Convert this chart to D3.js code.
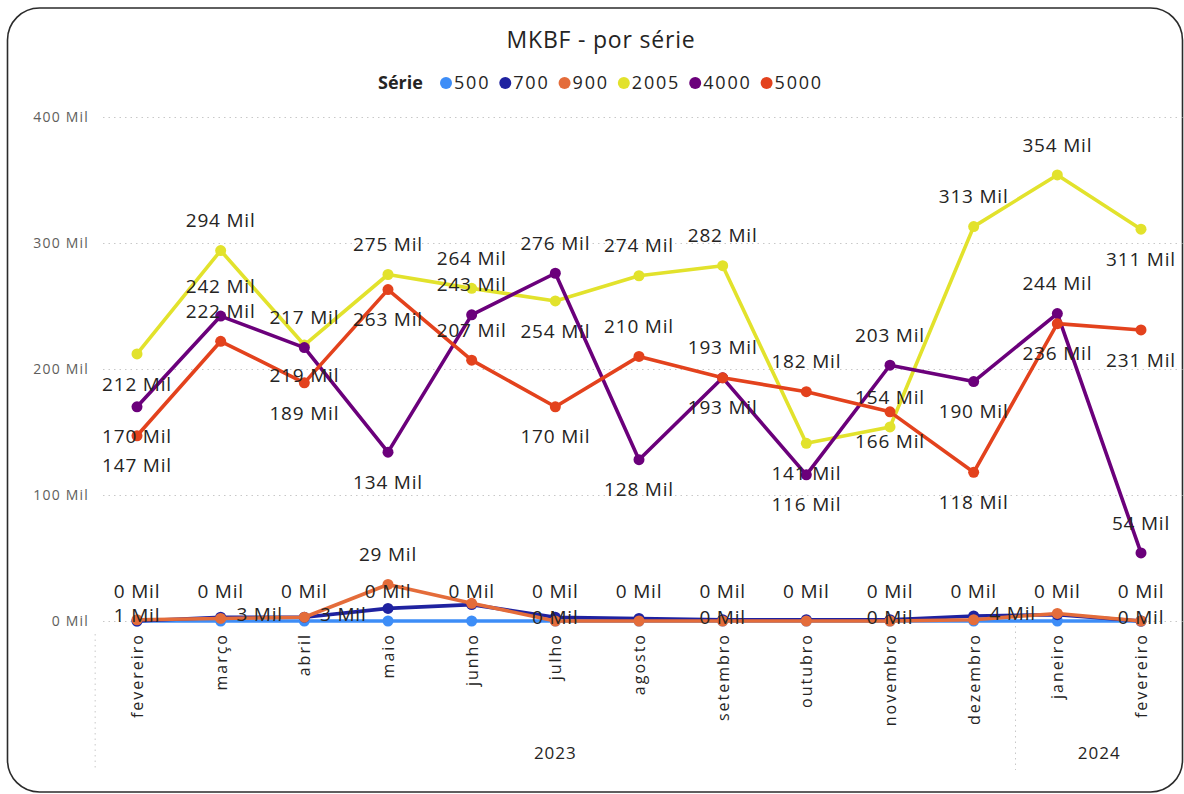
<!DOCTYPE html>
<html>
<head>
<meta charset="utf-8">
<script src="https://cdn.jsdelivr.net/npm/d3@7"></script>
<style>
  html, body { margin: 0; padding: 0; background: #fff; }
  svg { display: block; }
  text { font-family: "Open Sans", "Noto Sans", sans-serif; }
</style>
</head>
<body>
<svg id="chart" width="1184" height="794"></svg>
<script>
// Months on the x axis (Feb 2023 – Feb 2024)
const months = ["fevereiro", "março", "abril", "maio", "junho", "julho", "agosto",
                "setembro", "outubro", "novembro", "dezembro", "janeiro", "fevereiro"];
const years = ["2023", "2024"];
const yearSpans = [[0, 10], [11, 12]];

// Series names and MKBF values (thousands)
const seriesNames = ["500", "700", "900", "2005", "4000", "5000"];
const s500  = [0, 0, 0, 0, 0, 0, 0, 0, 0, 0, 0, 0, 0];
const s700  = [0, 3, 3, 10, 13, 3, 2, 1, 1, 1, 4, 5, 0];
const s900  = [1, 2, 3, 29, 14, 0, 0, 0, 0, 0, 1, 6, 0];
const s2005 = [212, 294, 219, 275, 264, 254, 274, 282, 141, 154, 313, 354, 311];
const s4000 = [170, 242, 217, 134, 243, 276, 128, 193, 116, 203, 190, 244, 54];
const s5000 = [147, 222, 189, 263, 207, 170, 210, 193, 182, 166, 118, 236, 231];

const yTicks = [0, 100, 200, 300, 400];

// Series colours
const colors = ["#3d8df7", "#1f22a0", "#e46c3a", "#e2e22c", "#6b007b", "#e3421d"];

// Data-label placement: A above, B below, C centred, R right, N hidden
const labelSides = [
  "AAAAAAAAAAAAA",
  "NRRNNNNNNNRNN",
  "CNNANCNCNCNNC",
  "BABAABAABAAAB",
  "BAABAABBBABAA",
  "BABBABAAABBBB"
];

const values = [s500, s700, s900, s2005, s4000, s5000];
const series = seriesNames.map((name, i) => ({
  name, color: colors[i], sides: labelSides[i],
  points: values[i].map((v, j) => ({ i: j, v }))
}));

const svg = d3.select("#chart");

// Rounded frame
svg.append("rect")
  .attr("x", 7.5).attr("y", 8).attr("width", 1175).attr("height", 784)
  .attr("rx", 32).attr("ry", 32)
  .attr("fill", "#fff").attr("stroke", "#2b2b2b").attr("stroke-width", 1.6);

const x = d3.scalePoint().domain(d3.range(months.length)).range([137, 1141]);
const y = d3.scaleLinear().domain([0, 400]).range([621, 117]);

// Title
svg.append("text")
  .attr("x", 601).attr("y", 48)
  .attr("text-anchor", "middle")
  .attr("font-size", 23).attr("letter-spacing", 0.8).attr("fill", "#252423")
  .text("MKBF - por série");

// Legend
const legend = svg.append("g").attr("transform", "translate(378,83)");
legend.append("text")
  .attr("x", 0).attr("y", 6)
  .attr("font-size", 18).attr("font-weight", "bold").attr("fill", "#252423")
  .text("Série");
let lx = 68;
series.forEach(s => {
  legend.append("circle").attr("cx", lx).attr("cy", 0).attr("r", 6).attr("fill", s.color);
  const t = legend.append("text")
    .attr("x", lx + 8).attr("y", 6)
    .attr("font-size", 18).attr("letter-spacing", 1.8).attr("fill", "#252423")
    .text(s.name);
  lx += 8 + t.node().getComputedTextLength() + 15;
});

// Horizontal gridlines and y labels
const yAxis = d3.axisLeft(y).tickValues(yTicks).tickSize(0).tickFormat(d => d + " Mil");
const yg = svg.append("g").attr("transform", "translate(95,0)").call(yAxis);
yg.select(".domain").remove();
yg.selectAll("text")
  .attr("x", -6).attr("font-size", 14).attr("letter-spacing", 1.2).attr("fill", "#605e5c")
  .attr("font-family", "'Open Sans', sans-serif");
yg.selectAll(".tick").append("line")
  .attr("x1", 8).attr("x2", 1088)
  .attr("stroke", "#c8c8c8").attr("stroke-width", 1)
  .attr("stroke-dasharray", "1.5,4");

// X axis month labels (rotated)
const xAxis = d3.axisBottom(x).tickSize(0).tickFormat(i => months[i]);
const xg = svg.append("g").attr("transform", "translate(0,633)").call(xAxis);
xg.select(".domain").remove();
xg.selectAll("text")
  .attr("font-size", 16).attr("fill", "#252423")
  .attr("letter-spacing", 2)
  .attr("font-family", "'Open Sans', sans-serif")
  .attr("transform", "rotate(-90)")
  .attr("text-anchor", "end")
  .attr("x", 0).attr("y", 0).attr("dy", "0.35em");

// Year separators and labels
const step = x.step();
const sepXs = [x(0) - step / 2, x(11) - step / 2];
svg.selectAll("line.sep").data(sepXs).enter().append("line")
  .attr("class", "sep")
  .attr("x1", d => d).attr("x2", d => d)
  .attr("y1", (d, k) => k === 0 ? 634 : 626).attr("y2", 770)
  .attr("stroke", "#c8c8c8").attr("stroke-width", 1).attr("stroke-dasharray", "1.5,4");

svg.selectAll("text.year").data(years).enter().append("text")
  .attr("class", "year")
  .attr("x", (d, k) => (x(yearSpans[k][0]) + x(yearSpans[k][1])) / 2)
  .attr("y", 759)
  .attr("text-anchor", "middle")
  .attr("font-size", 17).attr("letter-spacing", 1).attr("fill", "#252423")
  .text(d => d);

// Lines and markers
const line = d3.line().x(d => x(d.i)).y(d => y(d.v));
const marks = svg.append("g");
series.forEach(s => {
  const g = marks.append("g");
  g.append("path")
    .attr("d", line(s.points))
    .attr("fill", "none").attr("stroke", s.color)
    .attr("stroke-width", 3.6).attr("stroke-linejoin", "round");
  g.selectAll("circle").data(s.points).enter().append("circle")
    .attr("cx", d => x(d.i)).attr("cy", d => y(d.v)).attr("r", 5.5)
    .attr("fill", s.color);
});

// Data labels
const labels = svg.append("g");
series.forEach(s => {
  s.points.forEach(p => {
    const side = s.sides[p.i];
    if (side === "N") return;
    let dx = 0, dy = 0;
    if (side === "A") dy = -30;
    else if (side === "B") dy = 30;
    else if (side === "C") dy = -4;
    else if (side === "R") { dx = 39; dy = -3; }
    labels.append("text")
      .attr("x", x(p.i) + dx).attr("y", y(p.v) + dy)
      .attr("dy", "0.35em")
      .attr("text-anchor", "middle")
      .attr("font-size", 19).attr("letter-spacing", 0.8).attr("fill", "#252423")
      .text(p.v + " Mil");
  });
});
</script>
</body>
</html>
